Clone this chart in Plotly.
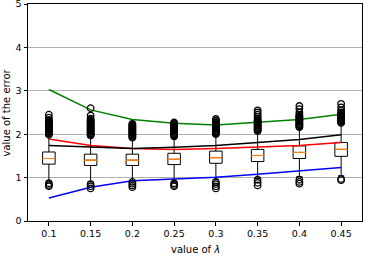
import plotly.graph_objects as go

categories = ["0.1", "0.15", "0.2", "0.25", "0.3", "0.35", "0.4", "0.45"]

# box statistics
q1 = [1.31, 1.28, 1.28, 1.30, 1.33, 1.37, 1.44, 1.49]
median = [1.44, 1.40, 1.40, 1.42, 1.46, 1.51, 1.58, 1.65]
q3 = [1.59, 1.54, 1.54, 1.56, 1.61, 1.65, 1.73, 1.81]
lowerfence = [0.92, 0.90, 0.93, 0.90, 0.95, 0.98, 1.02, 1.04]
upperfence = [1.98, 1.95, 1.90, 1.93, 1.98, 2.05, 2.14, 2.25]

# outliers per category
outliers = {
    "0.1": [0.80, 0.83, 0.87,
            1.99, 2.01, 2.03, 2.05, 2.07, 2.09, 2.11, 2.13, 2.15, 2.17, 2.19,
            2.21, 2.23, 2.25, 2.27, 2.29, 2.31, 2.33, 2.38, 2.45],
    "0.15": [0.75, 0.80, 0.85,
             1.97, 1.99, 2.01, 2.03, 2.05, 2.07, 2.09, 2.11, 2.13, 2.15, 2.17,
             2.19, 2.21, 2.23, 2.25, 2.27, 2.29, 2.31, 2.33, 2.36, 2.43, 2.60],
    "0.2": [0.78, 0.82, 0.86, 0.90,
            1.92, 1.94, 1.96, 1.98, 2.00, 2.02, 2.04, 2.06, 2.08, 2.10, 2.12,
            2.14, 2.16, 2.18, 2.20, 2.22, 2.24],
    "0.25": [0.80, 0.83, 0.87,
             1.95, 1.97, 1.99, 2.01, 2.03, 2.05, 2.07, 2.09, 2.11, 2.13, 2.15,
             2.17, 2.19, 2.21, 2.23, 2.25, 2.27],
    "0.3": [0.75, 0.80, 0.85, 0.90,
            2.00, 2.02, 2.04, 2.06, 2.08, 2.10, 2.12, 2.14, 2.16, 2.18, 2.20,
            2.22, 2.24, 2.26, 2.28, 2.31, 2.35],
    "0.35": [0.82, 0.88, 0.95,
             2.07, 2.09, 2.11, 2.13, 2.15, 2.17, 2.19, 2.21, 2.23, 2.25, 2.27,
             2.29, 2.31, 2.33, 2.36, 2.40, 2.45, 2.50, 2.55],
    "0.4": [0.86, 0.90, 0.95,
            2.16, 2.18, 2.20, 2.22, 2.24, 2.26, 2.28, 2.30, 2.32, 2.34, 2.36,
            2.38, 2.40, 2.42, 2.45, 2.50, 2.58, 2.65],
    "0.45": [0.94, 0.97,
             2.26, 2.28, 2.30, 2.32, 2.34, 2.36, 2.38, 2.40, 2.42, 2.44, 2.46,
             2.50, 2.55, 2.62, 2.70],
}

# line series
green = [3.03, 2.56, 2.34, 2.25, 2.21, 2.27, 2.34, 2.46]
red = [1.89, 1.74, 1.67, 1.65, 1.67, 1.70, 1.74, 1.81]
black = [1.74, 1.70, 1.67, 1.70, 1.74, 1.81, 1.88, 1.99]
blue = [0.53, 0.78, 0.93, 0.97, 1.01, 1.08, 1.15, 1.23]

y_ticks = [0, 1, 2, 3, 4, 5]

fig = go.Figure()

fig.add_trace(go.Box(
    x=categories, q1=q1, median=median, q3=q3,
    lowerfence=lowerfence, upperfence=upperfence,
    boxpoints=False, fillcolor="white",
    line=dict(color="black", width=1), width=0.3, whiskerwidth=0.5,
    showlegend=False, hoverinfo="skip",
))
fig.add_trace(go.Box(
    x=categories, q1=median, median=median, q3=median,
    lowerfence=median, upperfence=median,
    boxpoints=False, fillcolor="rgba(0,0,0,0)",
    line=dict(color="#ff7f0e", width=1), width=0.3, whiskerwidth=0,
    showlegend=False, hoverinfo="skip",
))

for vals, col in [(green, "#008000"), (red, "#ff0000"), (black, "#000000"), (blue, "#0000ff")]:
    fig.add_trace(go.Scatter(
        x=categories, y=vals, mode="lines",
        line=dict(color=col, width=1.5), showlegend=False,
    ))

ox, oy = [], []
for c in categories:
    for v in outliers[c]:
        ox.append(c)
        oy.append(v)
fig.add_trace(go.Scatter(
    x=ox, y=oy, mode="markers",
    marker=dict(symbol="circle-open", size=6.5, color="black", line=dict(width=1.3)),
    showlegend=False,
))

fig.update_layout(
    width=368, height=256,
    margin=dict(l=28, r=6, t=4, b=35),
    paper_bgcolor="white", plot_bgcolor="white",
    boxmode="overlay",
    font=dict(family="DejaVu Sans", size=9.5, color="black"),
    annotations=[
        dict(text="value of <i>λ</i>", xref="paper", yref="paper", x=0.5, y=0,
             yshift=-28, xanchor="center", yanchor="middle", showarrow=False,
             font=dict(size=10)),
        dict(text="value of the error", xref="paper", yref="paper", x=0, y=0.5,
             xshift=-22, xanchor="center", yanchor="middle", textangle=-90,
             showarrow=False, font=dict(size=10)),
    ],
)
fig.update_xaxes(
    type="category", categoryorder="array", categoryarray=categories,
    range=[-0.5, 7.5], showline=True, mirror=True, linecolor="black", linewidth=1,
    ticks="outside", ticklen=3.5, tickwidth=0.8, tickcolor="black",
    showgrid=False, zeroline=False, automargin=False,
)
fig.update_yaxes(
    range=[0, 5], tickvals=y_ticks, showline=True, mirror=True,
    linecolor="black", linewidth=1,
    ticks="outside", ticklen=3.5, tickwidth=0.8, tickcolor="black",
    showgrid=True, gridcolor="#b0b0b0", gridwidth=0.8, zeroline=False,
    automargin=False, ticklabeloverflow="allow",
)

fig.write_html("out.html", config={"displayModeBar": False},
               post_script="document.body.style.margin='0';")
